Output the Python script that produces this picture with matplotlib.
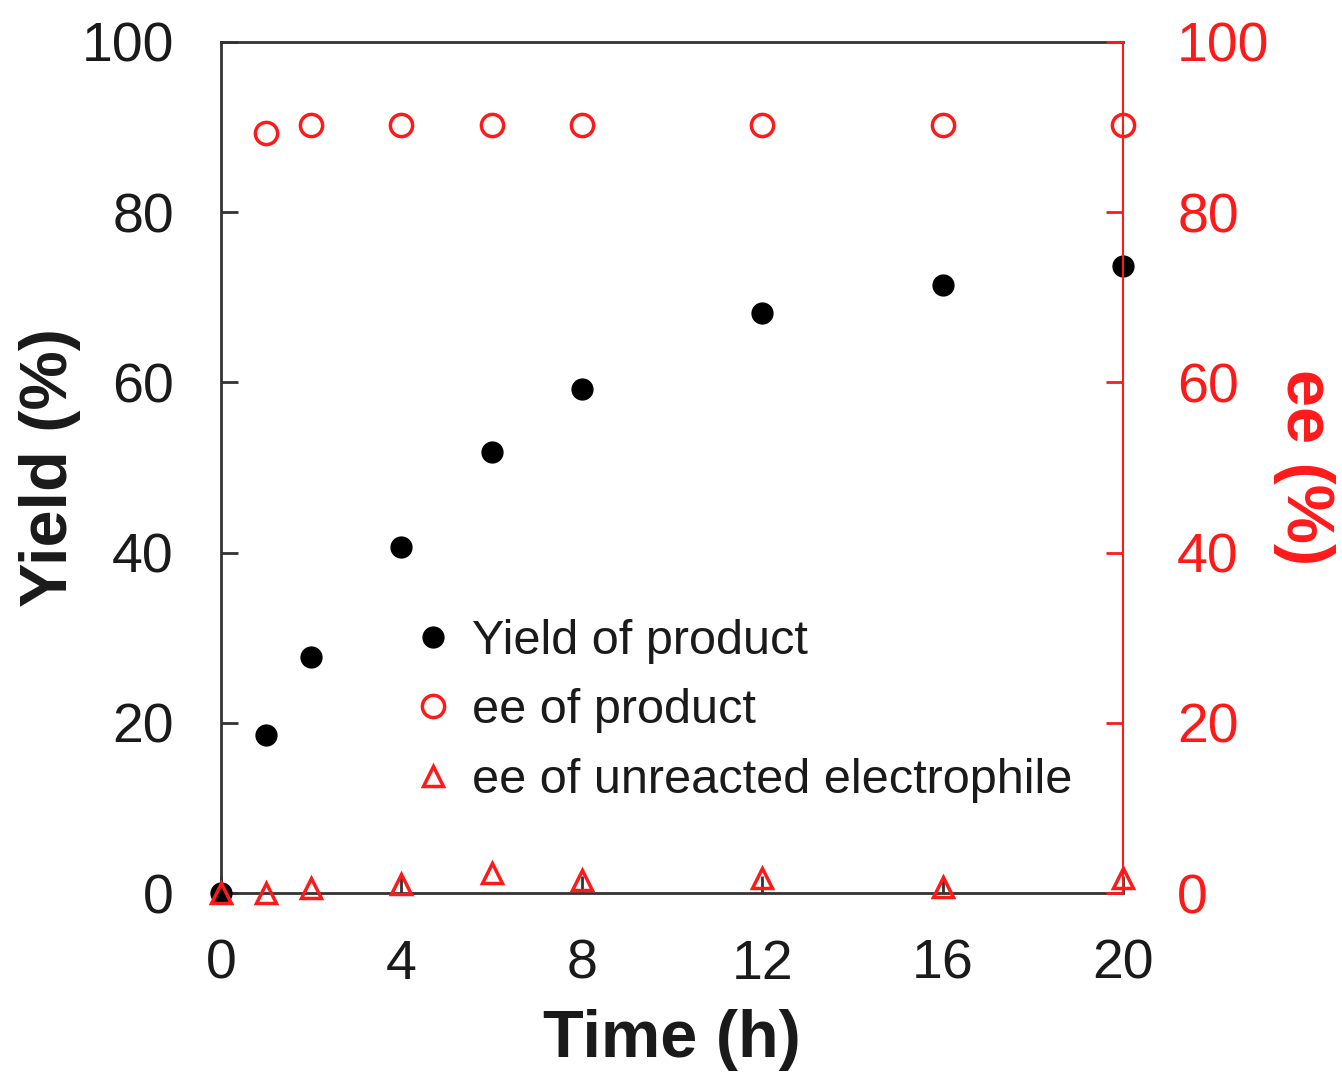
import numpy as np
import matplotlib.pyplot as plt

plt.rcParams['font.family'] = ['Liberation Sans', 'DejaVu Sans']

# Data
time_h = [0, 1, 2, 4, 6, 8, 12, 16, 20]
yield_product = [0.0, 18.6, 27.7, 40.7, 51.8, 59.2, 68.2, 71.4, 73.7]
ee_time = [1, 2, 4, 6, 8, 12, 16, 20]
ee_product = [89.3, 90.2, 90.2, 90.2, 90.2, 90.2, 90.2, 90.2]
ee_electrophile = [0.0, 0.0, 0.6, 1.0, 2.3, 1.5, 1.8, 0.7, 1.8]

x_ticks = [0, 4, 8, 12, 16, 20]
y_ticks = [0, 20, 40, 60, 80, 100]

red = '#ff1a1a'
dark = '#333333'
txt = '#1a1a1a'

fig = plt.figure(figsize=(13.42, 10.74), dpi=100)
ax = fig.add_axes([221/1342, 1-893/1074, (1123-221)/1342, (893-42)/1074])
ax2 = ax.twinx()

h1, = ax.plot(time_h, yield_product, 'o', color='black', markersize=15,
              clip_on=False, zorder=3, label='Yield of product')
h2, = ax2.plot(ee_time, ee_product, 'o', mfc='none', mec=red, mew=2.5,
               markersize=16, clip_on=False, label='ee of product')
h3, = ax2.plot(time_h, ee_electrophile, '^', mfc='none', mec=red, mew=2.5,
               markersize=15, clip_on=False, label='ee of unreacted electrophile')

ax.set_xlim(0, 20)
ax.set_ylim(0, 100)
ax2.set_ylim(0, 100)
ax.set_xticks(x_ticks)
ax.set_yticks(y_ticks)
ax2.set_yticks(y_ticks)

for s in ['left', 'top', 'bottom']:
    ax.spines[s].set_color(dark)
    ax.spines[s].set_linewidth(2)
    ax2.spines[s].set_visible(False)
ax.spines['right'].set_visible(False)
ax2.spines['right'].set_color(red)
ax2.spines['right'].set_linewidth(1.5)

ax.tick_params(axis='both', direction='in', length=12, width=2, color=dark,
               labelcolor=txt, labelsize=40)
ax.tick_params(axis='y', pad=34)
ax.tick_params(axis='x', pad=33)
ax2.tick_params(axis='y', direction='in', length=12, width=2, color=red,
                labelcolor=red, labelsize=40, pad=39)

ax.set_xlabel('Time (h)', fontsize=48, fontweight='bold', color=txt, labelpad=13)
ax.set_ylabel('Yield (%)', fontsize=48, fontweight='bold', color=txt, labelpad=0)
ax2.set_ylabel('ee (%)', fontsize=48, fontweight='bold', color=red,
               rotation=270, labelpad=47)

leg = ax2.legend(handles=[h1, h2, h3], loc='upper left', bbox_to_anchor=(0.208, 0.322),
                 frameon=False, fontsize=35, borderpad=0, borderaxespad=0,
                 handlelength=1, handletextpad=0.3, labelspacing=0.5)
for t in leg.get_texts():
    t.set_color(txt)

fig.savefig('out.png', dpi=100)
